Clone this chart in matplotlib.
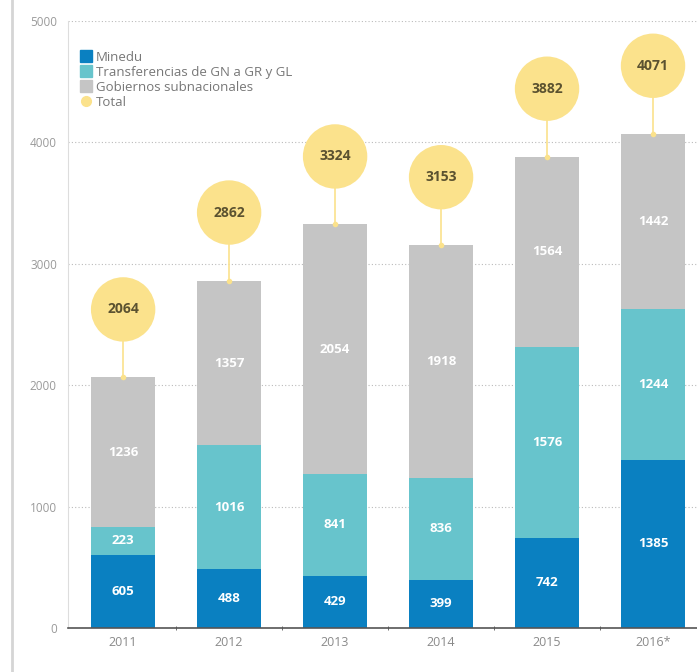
import numpy as np
import matplotlib.pyplot as plt
from matplotlib.lines import Line2D

# Presupuesto por fuente, 2011-2016
years = ["2011", "2012", "2013", "2014", "2015", "2016*"]
minedu = [605, 488, 429, 399, 742, 1385]
transferencias = [223, 1016, 841, 836, 1576, 1244]
gobiernos = [1236, 1357, 2054, 1918, 1564, 1442]
totals = [2064, 2862, 3324, 3153, 3882, 4071]

C_MINEDU = "#0a80c1"
C_TRANSF = "#67c4cc"
C_GOB = "#c5c5c5"
C_TOTAL = "#fbe28c"

plt.rcParams["font.family"] = ["Open Sans", "DejaVu Sans"]

fig = plt.figure(figsize=(6.97, 6.72), dpi=100)
ax = fig.add_axes([0.0976, 0.0655, 0.9024, 0.9033])

x = np.arange(len(years))
w = 0.6
b1 = np.array(minedu)
b2 = b1 + np.array(transferencias)

ax.bar(x, minedu, w, color=C_MINEDU, label="Minedu", zorder=2)
ax.bar(x, transferencias, w, bottom=b1, color=C_TRANSF,
       label="Transferencias de GN a GR y GL", zorder=2)
ax.bar(x, gobiernos, w, bottom=b2, color=C_GOB,
       label="Gobiernos subnacionales", zorder=2)

# segment values
for i in range(len(years)):
    for val, base in [(minedu[i], 0), (transferencias[i], b1[i]), (gobiernos[i], b2[i])]:
        ax.text(x[i], base + val / 2, str(val), ha="center", va="center",
                color="white", fontsize=9.5, fontweight="bold", zorder=3)

# total bubbles
lift = 560
bar_top = b2 + np.array(gobiernos)
for i, t in enumerate(totals):
    ax.plot([x[i], x[i]], [bar_top[i], t + lift], color=C_TOTAL, lw=1.2, zorder=3)
    ax.plot(x[i], bar_top[i], marker="o", ms=3, color=C_TOTAL, zorder=3)
ax.scatter(x, np.array(totals) + lift, s=2150, color=C_TOTAL, zorder=4,
           edgecolors="none", label="Total")
for i, t in enumerate(totals):
    ax.text(x[i], t + lift, str(t), ha="center", va="center", color="#5b5230",
            fontsize=10, fontweight="bold", zorder=5)

ax.set_xlim(-0.52, 5.415)
ax.set_ylim(0, 5000)
ax.set_yticks([0, 1000, 2000, 3000, 4000, 5000])
ax.set_xticks(x)
ax.set_xticklabels(years)
ax.set_xticks(x[:-1] + 0.5, minor=True)
ax.tick_params(axis="x", which="major", length=0, colors="#8a8a8a", labelsize=9, pad=6)
ax.tick_params(axis="x", which="minor", length=3, color="#555555", direction="inout")
ax.tick_params(axis="y", length=0, colors="#9a9a9a", labelsize=8.5, pad=8)

ax.grid(axis="y", linestyle=(0, (1, 2)), color="#bbbbbb", lw=0.8, zorder=0)
for s in ["top", "right"]:
    ax.spines[s].set_visible(False)
ax.spines["left"].set_color("#dddddd")
ax.spines["bottom"].set_color("#555555")
ax.spines["bottom"].set_linewidth(1.2)

handles, labels = ax.get_legend_handles_labels()
order = [0, 1, 2, 3]
leg_handles = [
    Line2D([], [], marker="s", ls="", ms=8, color=C_MINEDU),
    Line2D([], [], marker="s", ls="", ms=8, color=C_TRANSF),
    Line2D([], [], marker="s", ls="", ms=8, color=C_GOB),
    Line2D([], [], marker="o", ls="", ms=7, color=C_TOTAL),
]
ax.legend(leg_handles, ["Minedu", "Transferencias de GN a GR y GL",
                        "Gobiernos subnacionales", "Total"],
          loc="upper left", bbox_to_anchor=(0.0, 0.97), frameon=False,
          fontsize=9.5, labelcolor="#777777", handletextpad=0.2,
          labelspacing=0.15, handlelength=1.0, borderaxespad=0.5)

# left page rule
fig.add_artist(Line2D([0.017, 0.017], [0, 1], color="#d5d5d5", lw=2,
                      transform=fig.transFigure))

fig.savefig("out.png", dpi=100)
